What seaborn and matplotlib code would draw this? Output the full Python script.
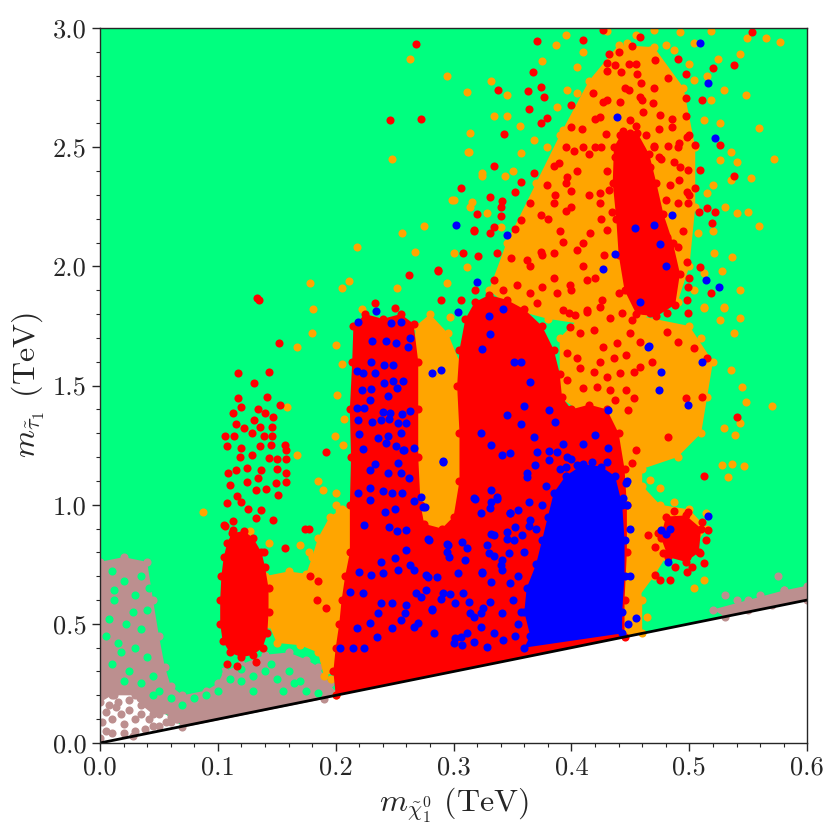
import matplotlib
matplotlib.use("Agg")
import matplotlib.pyplot as plt
import seaborn as sns
import pandas as pd

sns.set_style("ticks")
plt.rcParams['font.family'] = ['serif']
plt.rcParams['font.serif'] = ['cmr10', 'DejaVu Serif']
plt.rcParams['mathtext.fontset'] = 'cm'
plt.rcParams['axes.formatter.use_mathtext'] = True

# colours of the five classes of points
c_green = '#00FF7F'
c_brown = '#BC8F8F'
c_orange = '#FFA500'
c_red = '#FF0000'
c_blue = '#0000FF'

# kinematic boundary m_stau = m_neutralino
line_x = [0.0, 0.6]
line_y = [0.0, 0.6]

# dense regions (outlines of the packed clouds), (m_chi, m_stau) in TeV
green_region = [(0.0, 3.0), (0.6, 3.0), (0.6, 0.6), (0.07, 0.07), (0.05, 0.14), (0.0, 0.3)]

brown_region = [(0.0, 0.76), (0.02, 0.78), (0.04, 0.76), (0.045, 0.6), (0.05, 0.45), (0.055, 0.32),
                (0.06, 0.24), (0.07, 0.2), (0.09, 0.22), (0.1, 0.25), (0.105, 0.3), (0.12, 0.33),
                (0.14, 0.37), (0.16, 0.38), (0.175, 0.35), (0.185, 0.32), (0.195, 0.25), (0.2, 0.21),
                (0.19, 0.185), (0.07, 0.065), (0.065, 0.1), (0.06, 0.12), (0.045, 0.12),
                (0.035, 0.16), (0.03, 0.2), (0.01, 0.2), (0.0, 0.17)]
brown_right = [(0.52, 0.56), (0.55, 0.6), (0.58, 0.64), (0.6, 0.66), (0.6, 0.6), (0.53, 0.53)]

orange_regions = [
    [(0.14, 0.7), (0.16, 0.72), (0.175, 0.71), (0.18, 0.78), (0.185, 0.86), (0.195, 0.95),
     (0.205, 0.98), (0.21, 0.9), (0.205, 0.7), (0.205, 0.5), (0.2, 0.3), (0.19, 0.28),
     (0.185, 0.38), (0.17, 0.41), (0.15, 0.42), (0.143, 0.5), (0.14, 0.6)],
    [(0.268, 1.75), (0.28, 1.8), (0.295, 1.72), (0.305, 1.6), (0.31, 1.4), (0.31, 1.2),
     (0.308, 1.0), (0.305, 0.9), (0.3, 0.78), (0.29, 0.72), (0.275, 0.8), (0.268, 1.0),
     (0.265, 1.3), (0.265, 1.55)],
    [(0.33, 1.9), (0.345, 2.1), (0.37, 2.35), (0.39, 2.55), (0.415, 2.78), (0.44, 2.93),
     (0.47, 2.92), (0.495, 2.75), (0.505, 2.5), (0.505, 2.25), (0.5, 2.0), (0.49, 1.85),
     (0.46, 1.78), (0.42, 1.75), (0.38, 1.78), (0.35, 1.82)],
    [(0.445, 0.58), (0.455, 0.6), (0.47, 0.7), (0.48, 0.78), (0.5, 0.8), (0.515, 0.9),
     (0.5, 0.98), (0.475, 1.0), (0.46, 1.08), (0.46, 1.15), (0.49, 1.2), (0.51, 1.3),
     (0.515, 1.45), (0.52, 1.6), (0.5, 1.75), (0.45, 1.8), (0.41, 1.8), (0.39, 1.7),
     (0.39, 1.45), (0.435, 1.3), (0.44, 1.1), (0.445, 0.8)],
    [(0.2, 0.2), (0.46, 0.46), (0.46, 0.6), (0.45, 1.0), (0.3, 0.95), (0.27, 0.9), (0.2, 1.0)],
]

red_regions = [
    [(0.112, 0.88), (0.122, 0.89), (0.13, 0.86), (0.137, 0.8), (0.14, 0.74), (0.143, 0.65),
     (0.143, 0.55), (0.142, 0.46), (0.138, 0.4), (0.13, 0.37), (0.12, 0.36), (0.11, 0.38),
     (0.104, 0.43), (0.102, 0.5), (0.102, 0.6), (0.103, 0.7), (0.105, 0.78), (0.108, 0.84)],
    [(0.2, 0.2), (0.198, 0.3), (0.2, 0.4), (0.203, 0.5), (0.205, 0.6), (0.208, 0.7),
     (0.212, 0.8), (0.212, 1.0), (0.213, 1.2), (0.212, 1.4), (0.214, 1.6), (0.215, 1.75),
     (0.225, 1.8), (0.24, 1.78), (0.255, 1.8), (0.266, 1.76), (0.27, 1.6), (0.27, 1.4),
     (0.27, 1.2), (0.272, 1.0), (0.275, 0.92), (0.29, 0.9), (0.3, 0.95), (0.305, 1.1),
     (0.305, 1.3), (0.303, 1.5), (0.305, 1.65), (0.31, 1.78), (0.318, 1.85), (0.33, 1.88),
     (0.345, 1.86), (0.36, 1.82), (0.375, 1.75), (0.385, 1.65), (0.39, 1.55), (0.392, 1.45),
     (0.4, 1.4), (0.415, 1.42), (0.43, 1.4), (0.44, 1.3), (0.445, 1.15), (0.447, 1.0),
     (0.447, 0.8), (0.445, 0.6), (0.445, 0.445)],
    # ridge of the upper cloud
    [(0.436, 2.5), (0.444, 2.57), (0.456, 2.56), (0.466, 2.47), (0.472, 2.35), (0.478, 2.22),
     (0.486, 2.1), (0.492, 1.97), (0.488, 1.84), (0.472, 1.79), (0.455, 1.8), (0.445, 1.9),
     (0.44, 2.05), (0.438, 2.2), (0.435, 2.35)],
    [(0.48, 0.95), (0.497, 0.955), (0.51, 0.9), (0.508, 0.8), (0.497, 0.76), (0.482, 0.78),
     (0.476, 0.86)],
]

blue_region = [(0.36, 0.4), (0.365, 0.45), (0.36, 0.55), (0.362, 0.65), (0.37, 0.75),
               (0.375, 0.85), (0.38, 0.95), (0.385, 1.05), (0.395, 1.12), (0.41, 1.17),
               (0.425, 1.16), (0.437, 1.12), (0.443, 1.0), (0.445, 0.85), (0.445, 0.7),
               (0.443, 0.55), (0.443, 0.46)]

# isolated points
brown_x = [0.005, 0.01, 0.02, 0.025, 0.035, 0.04, 0.05, 0.055, 0.015, 0.03, 0.045, 0.06,
           0.0, 0.012, 0.005, 0.02, 0.03, 0.038, 0.05, 0.06, 0.065, 0.008, 0.025, 0.042,
           0.002, 0.014, 0.028, 0.034, 0.048, 0.018, 0.01, 0.056,
           0.54, 0.56, 0.57, 0.58, 0.59, 0.55, 0.53, 0.575]
brown_y = [0.05, 0.1, 0.08, 0.14, 0.12, 0.17, 0.12, 0.16, 0.17, 0.05, 0.07, 0.09,
           0.02, 0.2, 0.13, 0.04, 0.1, 0.06, 0.07, 0.11, 0.1, 0.16, 0.18, 0.1,
           0.09, 0.15, 0.03, 0.19, 0.14, 0.12, 0.04, 0.09,
           0.6, 0.62, 0.58, 0.64, 0.61, 0.56, 0.62, 0.7]

green_x = [0.01, 0.02, 0.035, 0.012, 0.03, 0.04, 0.008, 0.022, 0.035, 0.015, 0.03, 0.04,
           0.01, 0.025, 0.045, 0.035, 0.05, 0.06, 0.045, 0.07, 0.08, 0.09, 0.1, 0.11,
           0.12, 0.13, 0.14, 0.15, 0.16, 0.17, 0.175, 0.13, 0.155, 0.165, 0.1, 0.12,
           0.005, 0.018, 0.028, 0.042, 0.02, 0.012, 0.085, 0.145, 0.185]
green_y = [0.72, 0.68, 0.7, 0.6, 0.62, 0.56, 0.52, 0.5, 0.48, 0.42, 0.4, 0.36,
           0.33, 0.3, 0.28, 0.25, 0.22, 0.19, 0.2, 0.16, 0.19, 0.2, 0.22, 0.27,
           0.26, 0.28, 0.3, 0.27, 0.3, 0.26, 0.22, 0.22, 0.22, 0.25, 0.3, 0.31,
           0.45, 0.38, 0.55, 0.65, 0.26, 0.64, 0.24, 0.33, 0.21]

orange_x = [0.294, 0.311, 0.332, 0.314, 0.313, 0.299, 0.275, 0.324, 0.345, 0.356, 0.387,
            0.577, 0.565, 0.549, 0.543, 0.548, 0.559, 0.572, 0.54, 0.559, 0.55, 0.552, 0.53,
            0.543, 0.528, 0.536, 0.529, 0.512, 0.52, 0.535, 0.529, 0.524, 0.518,
            0.248, 0.218, 0.178, 0.181, 0.205, 0.211, 0.252, 0.267, 0.256, 0.3, 0.312,
            0.263, 0.345, 0.334, 0.35, 0.344, 0.324, 0.316, 0.222,
            0.18, 0.167, 0.2, 0.205, 0.159, 0.201, 0.207, 0.199, 0.206, 0.167, 0.185,
            0.087, 0.189, 0.2, 0.195, 0.21, 0.127, 0.143, 0.17, 0.177, 0.195, 0.149,
            0.188, 0.19, 0.2, 0.196,
            0.57, 0.545, 0.548, 0.543, 0.539, 0.529, 0.536, 0.546, 0.528, 0.533, 0.529,
            0.543, 0.538, 0.526, 0.512, 0.535, 0.475, 0.467, 0.487, 0.454, 0.504, 0.512,
            0.514, 0.464, 0.456,
            0.396, 0.405, 0.422, 0.447, 0.47, 0.492, 0.504, 0.487, 0.467, 0.481, 0.504,
            0.518, 0.487, 0.47, 0.512, 0.526, 0.405, 0.388, 0.393, 0.419, 0.396, 0.379,
            0.368, 0.357, 0.385, 0.419, 0.407, 0.396, 0.379, 0.365, 0.348, 0.34, 0.328,
            0.314, 0.3, 0.294, 0.297, 0.311, 0.441, 0.456, 0.47, 0.487, 0.504, 0.512,
            0.521, 0.507, 0.515, 0.526, 0.535, 0.54, 0.475, 0.436,
            0.375, 0.395, 0.41, 0.43, 0.455, 0.48, 0.5, 0.515, 0.52, 0.51, 0.42, 0.36]
orange_y = [2.80, 2.73, 2.78, 2.56, 2.48, 2.28, 2.17, 2.39, 2.63, 2.59, 2.93,
            2.94, 2.96, 2.96, 2.89, 2.72, 2.58, 2.45, 2.44, 2.17, 2.23, 2.37, 2.25,
            1.90, 1.98, 2.04, 1.83, 1.83, 2.34, 2.48, 2.74, 2.87, 2.99,
            2.45, 2.08, 1.93, 1.82, 1.91, 1.94, 1.91, 2.06, 2.14, 2.28, 2.48,
            2.87, 2.72, 2.63, 2.40, 2.38, 2.38, 2.27, 1.82,
            1.72, 1.66, 1.67, 1.59, 1.41, 1.46, 1.36, 1.29, 1.25, 1.21, 1.10,
            0.97, 1.06, 1.05, 0.9, 0.95, 0.89, 0.84, 0.83, 0.80, 0.85, 0.58,
            0.80, 0.35, 0.3, 0.27,
            1.414, 1.493, 1.432, 1.342, 1.292, 1.32, 1.171, 1.164, 1.167, 1.118, 1.824,
            1.782, 1.719, 1.775, 1.824, 1.565, 1.069, 1.104, 1.013, 1.027, 0.649, 0.684,
            0.964, 0.53, 0.642,
            2.74, 2.838, 2.796, 2.936, 2.992, 2.985, 2.936, 2.908, 2.908, 2.768, 2.782,
            2.698, 2.67, 2.586, 2.614, 2.60, 2.726, 2.67, 2.572, 2.642, 2.46, 2.503,
            2.53, 2.475, 2.418, 2.279, 2.223, 2.167, 2.153, 2.111, 2.097, 2.167, 2.223,
            2.25, 2.055, 1.929, 1.789, 1.999, 2.083, 2.027, 1.999, 1.971, 1.901, 1.971,
            2.055, 2.139, 2.307, 2.447, 2.363, 2.223, 1.901, 1.817,
            2.86, 2.97, 2.9, 2.99, 2.97, 2.93, 2.85, 2.8, 2.15, 1.7, 1.85, 1.9]

red_x = [0.133, 0.135, 0.152, 0.117, 0.143, 0.131, 0.117, 0.142, 0.12, 0.153, 0.134,
         0.14, 0.113, 0.115, 0.131, 0.147, 0.122, 0.136, 0.146, 0.106, 0.114, 0.129,
         0.139, 0.146, 0.108, 0.12, 0.136, 0.145, 0.157, 0.158, 0.119, 0.129, 0.143,
         0.15, 0.158, 0.115, 0.125, 0.137, 0.15, 0.109, 0.158, 0.125, 0.134, 0.149,
         0.11, 0.158, 0.116, 0.132, 0.141, 0.151, 0.108, 0.12, 0.126, 0.137, 0.147,
         0.105, 0.113, 0.132, 0.174, 0.177, 0.192,
         0.108, 0.116, 0.132, 0.106, 0.113, 0.139, 0.157, 0.178, 0.185, 0.184, 0.192,
         0.427, 0.371, 0.41, 0.458, 0.553, 0.451, 0.432, 0.471, 0.49, 0.538, 0.52,
         0.367, 0.43, 0.437, 0.449, 0.442, 0.456, 0.482, 0.497, 0.338, 0.363, 0.374,
         0.377, 0.4, 0.418, 0.427, 0.441, 0.449, 0.458, 0.459, 0.497, 0.511, 0.364,
         0.343, 0.374, 0.379, 0.4, 0.424, 0.45, 0.461, 0.469, 0.475, 0.485, 0.497,
         0.498, 0.474, 0.409, 0.41, 0.429, 0.441, 0.454, 0.449, 0.459, 0.47, 0.482,
         0.491, 0.5, 0.505, 0.526, 0.538, 0.402, 0.415, 0.425, 0.441, 0.448, 0.457,
         0.467, 0.474, 0.487, 0.492, 0.499, 0.509, 0.306, 0.334, 0.357, 0.368, 0.379,
         0.389, 0.396, 0.386, 0.40, 0.424, 0.432, 0.441, 0.448, 0.457, 0.467, 0.484,
         0.491, 0.498, 0.505, 0.515, 0.522, 0.519, 0.385, 0.395, 0.365, 0.374, 0.357,
         0.34, 0.352, 0.317, 0.331, 0.321, 0.337, 0.349, 0.362, 0.374, 0.385, 0.393,
         0.405, 0.416, 0.43, 0.444, 0.456, 0.424, 0.434, 0.47, 0.48, 0.49, 0.499,
         0.508, 0.481, 0.49, 0.498, 0.509, 0.499, 0.518, 0.498, 0.308, 0.318, 0.334,
         0.342, 0.354, 0.365, 0.375, 0.388, 0.399, 0.413, 0.426, 0.44, 0.453, 0.287,
         0.289, 0.306, 0.371, 0.398, 0.413, 0.467, 0.481, 0.499, 0.272, 0.268, 0.246,
         0.331, 0.341, 0.352, 0.32, 0.34, 0.334, 0.317, 0.287, 0.262, 0.233, 0.25,
         0.393, 0.403, 0.413, 0.424, 0.433, 0.443, 0.451, 0.461, 0.47, 0.481, 0.49,
         0.504, 0.515, 0.511, 0.497, 0.54, 0.482, 0.512, 0.399, 0.407, 0.419, 0.427,
         0.439, 0.45, 0.458, 0.396, 0.405, 0.424, 0.436, 0.446, 0.458, 0.468, 0.453,
         0.441, 0.43, 0.419, 0.407, 0.396, 0.41, 0.422, 0.433, 0.446, 0.453, 0.437,
         0.448, 0.455, 0.451,
         0.487, 0.499, 0.511, 0.516, 0.514, 0.509, 0.512, 0.502, 0.498, 0.488, 0.478,
         0.471, 0.473, 0.481, 0.492, 0.502, 0.494, 0.504, 0.488, 0.498, 0.465, 0.471,
         0.475, 0.484, 0.491,
         0.45, 0.455, 0.463, 0.47, 0.476, 0.444, 0.437, 0.452, 0.466,
         0.38, 0.39, 0.4, 0.41, 0.415, 0.405, 0.395, 0.42, 0.43, 0.445, 0.46, 0.47,
         0.455, 0.44, 0.43, 0.485, 0.49, 0.5, 0.495, 0.5, 0.42, 0.41, 0.4, 0.385,
         0.375, 0.365, 0.395, 0.385, 0.42, 0.43, 0.425, 0.428]
red_y = [1.866, 1.86, 1.677, 1.551, 1.558, 1.512, 1.446, 1.45, 1.41, 1.42, 1.40,
         1.383, 1.383, 1.34, 1.355, 1.37, 1.32, 1.327, 1.327, 1.29, 1.288, 1.30,
         1.29, 1.29, 1.246, 1.237, 1.246, 1.25, 1.25, 1.23, 1.20, 1.21, 1.195,
         1.19, 1.19, 1.146, 1.153, 1.146, 1.148, 1.135, 1.135, 1.097, 1.11, 1.09,
         1.083, 1.097, 1.037, 1.062, 1.064, 1.04, 1.008, 1.013, 0.981, 0.978, 0.936,
         0.915, 0.894, 0.943, 0.90, 0.90, 1.22,
         0.33, 0.324, 0.339, 0.91, 0.93, 0.80, 0.82, 0.70, 0.68, 0.60, 0.565,
         2.994, 2.946, 2.95, 2.961, 2.982, 2.925, 2.891, 2.866, 2.869, 2.844, 2.831,
         2.814, 2.855, 2.845, 2.848, 2.817, 2.806, 2.789, 2.807, 2.74, 2.738, 2.752,
         2.71, 2.676, 2.729, 2.691, 2.688, 2.742, 2.712, 2.77, 2.705, 2.698, 2.662,
         2.557, 2.60, 2.621, 2.584, 2.625, 2.614, 2.649, 2.684, 2.634, 2.585, 2.631,
         2.545, 2.577, 2.577, 2.503, 2.557, 2.55, 2.55, 2.505, 2.493, 2.507, 2.507,
         2.516, 2.551, 2.509, 2.509, 2.381, 2.485, 2.472, 2.503, 2.463, 2.433, 2.43,
         2.418, 2.46, 2.44, 2.418, 2.404, 2.404, 2.328, 2.423, 2.355, 2.391, 2.342,
         2.433, 2.376, 2.30, 2.318, 2.309, 2.321, 2.342, 2.363, 2.314, 2.342, 2.342,
         2.363, 2.314, 2.328, 2.244, 2.23, 2.181, 2.265, 2.232, 2.265, 2.216, 2.195,
         2.25, 2.156, 2.153, 2.139, 2.044, 2.055, 2.034, 2.027, 2.062, 2.055, 2.104,
         2.069, 2.139, 2.153, 2.195, 2.216, 2.265, 2.23, 2.265, 2.279, 2.265, 2.265,
         2.23, 2.125, 2.083, 2.02, 1.999, 1.915, 1.887, 1.859, 2.055, 1.901, 1.943,
         1.901, 1.922, 1.887, 1.915, 1.887, 1.922, 1.943, 1.859, 1.887, 1.915, 1.985,
         1.859, 1.859, 1.845, 1.803, 1.81, 1.803, 1.803, 1.803, 2.617, 2.933, 2.614,
         2.29, 2.273, 2.314, 2.22, 2.211, 2.167, 2.15, 1.981, 1.964, 1.848, 1.824,
         1.817, 1.796, 1.817, 1.831, 1.782, 1.803, 1.775, 1.817, 1.824, 1.726, 1.684,
         1.656, 1.614, 1.453, 1.447, 1.367, 1.285, 1.12, 1.747, 1.719, 1.733, 1.663,
         1.677, 1.719, 1.684, 1.635, 1.614, 1.60, 1.614, 1.628, 1.579, 1.60, 1.558,
         1.551, 1.537, 1.558, 1.572, 1.523, 1.488, 1.495, 1.481, 1.481, 1.447, 1.439,
         1.397, 1.23, 1.174,
         0.975, 0.971, 0.929, 0.894, 0.852, 0.796, 0.754, 0.74, 0.719, 0.74, 0.796,
         0.824, 0.88, 0.908, 0.88, 0.88, 0.824, 0.824, 0.796, 0.782, 0.873, 0.705,
         0.684, 0.684, 0.936,
         2.56, 2.59, 2.55, 2.5, 2.45, 2.34, 2.46, 2.31, 2.33,
         2.2, 2.15, 2.25, 2.1, 2.3, 2.4, 2.5, 2.62, 2.7, 2.75, 2.7, 2.75,
         2.85, 2.9, 2.82, 2.62, 2.5, 2.3, 2.15, 1.95, 1.95, 2.0, 1.9, 1.95,
         2.05, 2.0, 2.35, 2.42, 2.5, 2.4, 2.2, 2.05]

blue_x = [0.219, 0.234, 0.247, 0.255, 0.231, 0.243, 0.251, 0.261, 0.263, 0.23, 0.218,
          0.223, 0.233, 0.241, 0.249, 0.241, 0.249, 0.257, 0.222, 0.23, 0.244, 0.252,
          0.229, 0.218, 0.224, 0.24, 0.246, 0.256, 0.263, 0.219, 0.231, 0.238, 0.245,
          0.253, 0.26, 0.22, 0.236, 0.244, 0.255, 0.223, 0.243, 0.251, 0.258, 0.266,
          0.229, 0.233, 0.244, 0.253, 0.255, 0.262, 0.219, 0.229, 0.24, 0.248, 0.256,
          0.229, 0.266, 0.242, 0.25, 0.274, 0.224, 0.245, 0.252, 0.26, 0.278, 0.294,
          0.307, 0.26, 0.238, 0.25, 0.263, 0.296, 0.311, 0.212, 0.223, 0.22, 0.23,
          0.24, 0.253, 0.278, 0.286, 0.268, 0.277, 0.289, 0.301, 0.314, 0.323, 0.238,
          0.248, 0.26, 0.236, 0.255, 0.27, 0.282, 0.301, 0.307, 0.204, 0.218, 0.229,
          0.248, 0.215, 0.224, 0.235, 0.317, 0.324, 0.332, 0.334, 0.341, 0.347, 0.351,
          0.358, 0.348, 0.355, 0.365, 0.345, 0.332, 0.328, 0.317, 0.332, 0.337, 0.332,
          0.364, 0.362, 0.348, 0.341, 0.323, 0.332, 0.357, 0.345, 0.36, 0.365, 0.351,
          0.357, 0.324, 0.331, 0.33, 0.304, 0.342, 0.282, 0.289, 0.291, 0.381, 0.386,
          0.368, 0.381, 0.388, 0.393, 0.381, 0.405, 0.41, 0.417, 0.42, 0.431, 0.431,
          0.465, 0.458, 0.474,
          0.509, 0.516, 0.522, 0.439, 0.302, 0.345, 0.454, 0.47, 0.485, 0.475, 0.437,
          0.427, 0.48, 0.514, 0.525, 0.32,
          0.466, 0.511, 0.476, 0.499, 0.396, 0.446, 0.444, 0.447, 0.516, 0.476, 0.484,
          0.48, 0.482, 0.455,
          0.257, 0.291, 0.272, 0.276, 0.279, 0.295, 0.318, 0.323, 0.337, 0.371, 0.369,
          0.362, 0.331, 0.348, 0.352, 0.364, 0.334, 0.345, 0.33, 0.341, 0.324, 0.34,
          0.348, 0.331, 0.325, 0.341, 0.323, 0.334, 0.328, 0.342, 0.311, 0.306, 0.283,
          0.291, 0.282, 0.272, 0.266, 0.277, 0.297, 0.313, 0.317, 0.308, 0.304, 0.294,
          0.31, 0.266, 0.259, 0.3,
          0.355, 0.35, 0.355, 0.36, 0.37, 0.375, 0.39, 0.4, 0.43, 0.447, 0.45, 0.45,
          0.448, 0.352, 0.357, 0.366, 0.378, 0.395]
blue_y = [1.765, 1.814, 1.761, 1.765, 1.687, 1.687, 1.677, 1.663, 1.70, 1.60, 1.562,
          1.554, 1.551, 1.586, 1.586, 1.509, 1.52, 1.52, 1.481, 1.484, 1.456, 1.488,
          1.44, 1.405, 1.405, 1.391, 1.383, 1.379, 1.393, 1.355, 1.348, 1.355, 1.358,
          1.343, 1.341, 1.297, 1.278, 1.288, 1.30, 1.232, 1.258, 1.246, 1.23, 1.237,
          1.146, 1.171, 1.135, 1.173, 1.135, 1.11, 1.048, 1.068, 1.058, 1.05, 1.051,
          1.02, 1.017, 0.971, 0.98, 0.992, 0.915, 0.908, 0.891, 0.894, 0.854, 0.835,
          0.842, 0.81, 0.761, 0.778, 0.747, 0.782, 0.817, 0.635, 0.628, 0.719, 0.705,
          0.712, 0.728, 0.698, 0.698, 0.628, 0.642, 0.603, 0.589, 0.544, 0.544, 0.586,
          0.586, 0.579, 0.544, 0.516, 0.502, 0.558, 0.439, 0.411, 0.397, 0.481, 0.502,
          0.481, 0.397, 0.397, 0.446, 0.425, 0.719, 0.677, 0.785, 0.726, 0.796, 0.852,
          0.873, 0.964, 0.978, 0.936, 0.887, 0.879, 0.831, 1.027, 1.013, 1.034, 1.062,
          1.013, 1.131, 1.216, 1.209, 1.303, 1.25, 1.339, 1.376, 1.414, 1.516, 1.597,
          1.597, 1.655, 1.716, 1.792, 1.81, 1.821, 1.554, 1.567, 1.183, 1.397, 1.348,
          1.285, 1.227, 1.222, 1.255, 1.188, 1.166, 1.255, 1.18, 1.292, 1.237, 1.397,
          1.663, 1.852, 1.481,
          2.936, 2.768, 2.537, 2.625, 2.172, 2.132, 2.163, 2.173, 2.214, 2.093, 2.051,
          1.991, 2.002, 1.943, 1.912, 1.933,
          1.666, 1.599, 1.558, 1.417, 1.201, 1.089, 1.027, 0.999, 0.953, 0.894, 0.896,
          0.879, 0.761, 0.523,
          1.23, 1.18, 1.034, 0.989, 0.852, 0.831, 1.022, 0.964, 1.026, 1.222, 1.166,
          1.118, 0.985, 0.964, 0.908, 0.911, 0.873, 0.855, 0.796, 0.768, 0.712, 0.747,
          0.67, 0.593, 0.565, 0.544, 0.488, 0.46, 0.404, 0.432, 0.46, 0.446, 0.46,
          0.628, 0.561, 0.614, 0.726, 0.705, 0.625, 0.593, 0.53, 0.628, 0.712, 0.803,
          0.768, 0.488, 0.544, 0.419,
          0.5, 0.6, 0.7, 0.8, 0.9, 1.0, 1.15, 1.19, 1.18, 1.1, 0.9, 0.7,
          0.5, 0.45, 0.55, 0.62, 1.08, 1.16]

MS = 34


def draw_region(ax, verts, colour, z):
    xs = [v[0] for v in verts]
    ys = [v[1] for v in verts]
    ax.fill(xs, ys, color=colour, lw=0, zorder=z)
    # the outline is made of points too, so the edge looks like the cloud
    sns.scatterplot(x=xs, y=ys, color=colour, s=MS, linewidth=0, ax=ax, zorder=z)


def draw_points(ax, xs, ys, colour, z):
    df = pd.DataFrame({'m_chi': xs, 'm_stau': ys})
    sns.scatterplot(data=df, x='m_chi', y='m_stau', color=colour, s=MS,
                    linewidth=0, ax=ax, zorder=z)


fig = plt.figure(figsize=(8.4, 8.4), dpi=100)
ax = fig.add_axes([0.119, 0.1155, 0.842, 0.851])

ax.fill([v[0] for v in green_region], [v[1] for v in green_region], color=c_green, lw=0, zorder=1)
draw_region(ax, brown_region, c_brown, 2)
draw_region(ax, brown_right, c_brown, 2)
draw_points(ax, brown_x, brown_y, c_brown, 2)
draw_points(ax, green_x, green_y, c_green, 3)
for reg in orange_regions:
    draw_region(ax, reg, c_orange, 4)
draw_points(ax, orange_x, orange_y, c_orange, 4)
for reg in red_regions:
    draw_region(ax, reg, c_red, 5)
draw_points(ax, red_x, red_y, c_red, 5)
draw_region(ax, blue_region, c_blue, 6)
draw_points(ax, blue_x, blue_y, c_blue, 6)

ax.plot(line_x, line_y, color='black', lw=2, zorder=7)

ax.set_xlim(0, 0.6)
ax.set_ylim(0, 3.0)
ax.set_xticks([0.0, 0.1, 0.2, 0.3, 0.4, 0.5, 0.6])
ax.set_yticks([0.0, 0.5, 1.0, 1.5, 2.0, 2.5, 3.0])
ax.set_xticklabels(['0.0', '0.1', '0.2', '0.3', '0.4', '0.5', '0.6'])
ax.set_yticklabels(['0.0', '0.5', '1.0', '1.5', '2.0', '2.5', '3.0'])
ax.xaxis.set_minor_locator(matplotlib.ticker.MultipleLocator(0.02))
ax.yaxis.set_minor_locator(matplotlib.ticker.MultipleLocator(0.1))
ax.tick_params(which='major', direction='out', length=6, width=1, labelsize=19)
ax.tick_params(which='minor', direction='out', length=3, width=0.8)
for sp in ax.spines.values():
    sp.set_visible(True)
    sp.set_linewidth(1)
    sp.set_zorder(8)

ax.set_xlabel(r'$m_{\tilde{\chi}_1^0}$ (TeV)', fontsize=23)
ax.set_ylabel(r'$m_{\tilde{\tau}_1}$ (TeV)', fontsize=23)

fig.savefig('out.png', dpi=100)
